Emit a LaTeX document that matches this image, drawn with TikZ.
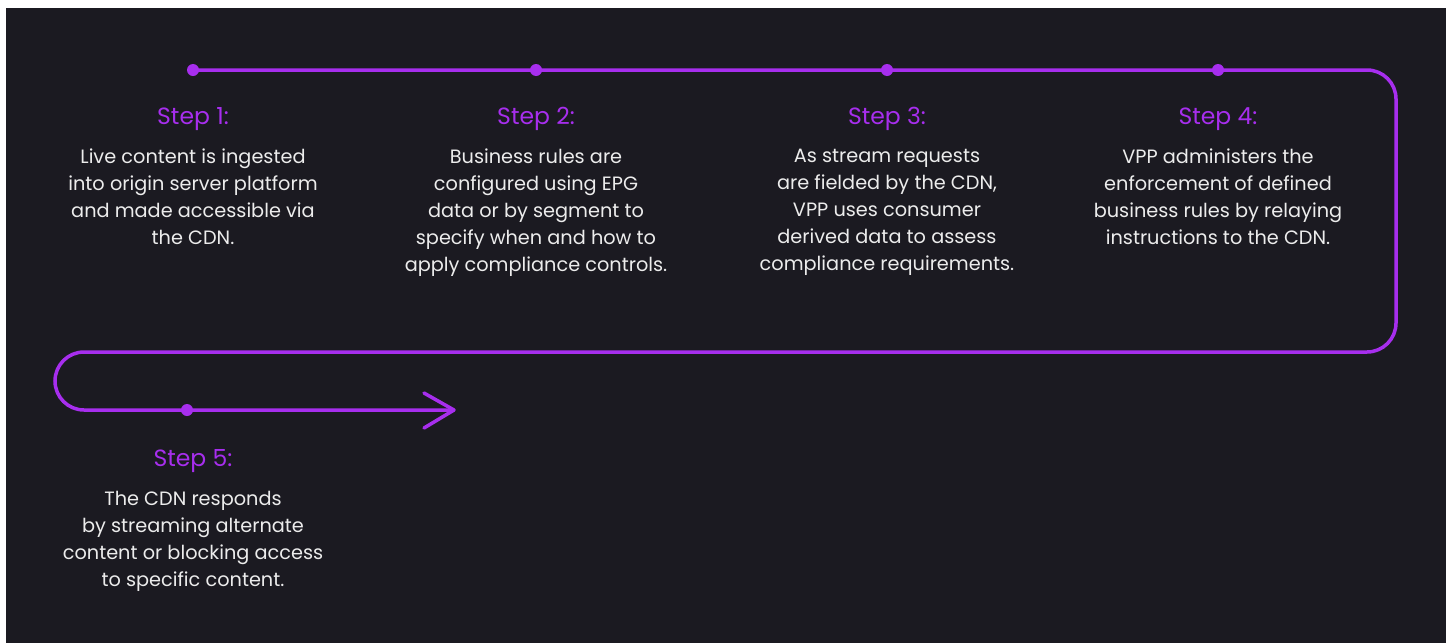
\documentclass[tikz,border=0pt]{standalone}
\usepackage{fontspec}
\setmainfont{Poppins}
\definecolor{bg}{HTML}{1B1A21}
\definecolor{vio}{HTML}{A72EEE}
\definecolor{txt}{HTML}{ECECEC}
\begin{document}
\begin{tikzpicture}[x=1pt,y=-1pt,
  dotnode/.style={circle,fill=vio,inner sep=0pt,minimum size=12pt},
  headnode/.style={text=vio,font=\fontsize{23.5}{28}\selectfont,inner sep=0pt,anchor=base},
  bodynode/.style={text=txt,font=\fontsize{19.3}{27}\selectfont,align=center,inner sep=0pt,anchor=north},
  flow/.style={draw=vio,line width=3.5pt}]
\fill[white] (0,0) rectangle (1451,643);
\fill[bg] (6,8) rectangle (1446,643);
\useasboundingbox (0,0) rectangle (1451,643);
% dots
\node[dotnode] (d1) at (193,70) {};
\node[dotnode] (d2) at (536,70) {};
\node[dotnode] (d3) at (887,70) {};
\node[dotnode] (d4) at (1218,70) {};
\node[dotnode] (d5) at (187,410) {};
\coordinate (tip) at (454,410);
% flow line
\draw[flow,rounded corners=29pt] (d1.center) -- (d2.center) -- (d3.center) -- (d4.center) -- (1396,70) -- (1396,352) -- (55,352) -- (55,410) -- (d5.center) -- (tip);
\draw[flow,line cap=round,line join=round] (424,393) -- (tip) -- (424,428);
% headings
\node[headnode] (h1) at (193,124) {Step 1:};
\node[headnode] (h2) at (536,124) {Step 2:};
\node[headnode] (h3) at (887,124) {Step 3:};
\node[headnode] (h4) at (1218,124) {Step 4:};
\node[headnode] (h5) at (193,466) {Step 5:};
% bodies
\node[bodynode] (b1) at (193,149) {Live content is ingested\\into origin server platform\\and made accessible via\\the CDN.};
\node[bodynode] (b2) at (536,149) {Business rules are\\configured using EPG\\data or by segment to\\specify when and how to\\apply compliance controls.};
\node[bodynode] (b3) at (887,149) {As stream requests\\are fielded by the CDN,\\VPP uses consumer\\derived data to assess\\compliance requirements.};
\node[bodynode] (b4) at (1218,149) {VPP administers the\\enforcement of defined\\business rules by relaying\\instructions to the CDN.};
\node[bodynode] (b5) at (193,491) {The CDN responds\\by streaming alternate\\content or blocking access\\to specific content.};
\end{tikzpicture}
\end{document}
